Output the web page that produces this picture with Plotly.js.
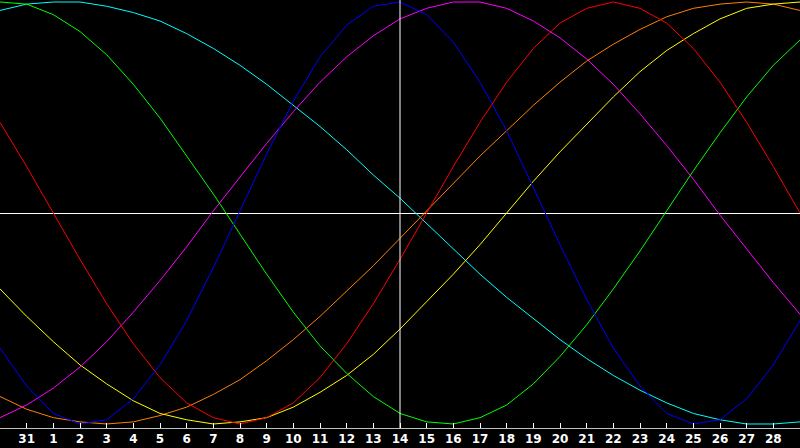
<!DOCTYPE html>
<html>
<head>
<meta charset="utf-8">
<script src="https://cdn.plot.ly/plotly-3.0.1.min.js"></script>
<style>
  html, body { margin: 0; padding: 0; background: #000; }
  #chart { width: 800px; height: 448px; }
</style>
</head>
<body>
<div id="chart"></div>
<script>
/* Seven-cycle biorhythm chart, one value per day, today marked. */

// day-of-month labels, first and last column sit on the plot edges
const days = [30, 31, 1, 2, 3, 4, 5, 6, 7, 8, 9, 10, 11, 12, 13, 14, 15, 16, 17, 18, 19, 20, 21, 22, 23, 24, 25, 26, 27, 28, 29];
const today = 14;

const physical = [-0.64, -0.82, -0.95, -1.00, -0.98, -0.88, -0.72, -0.51, -0.26, 0.01, 0.28, 0.53, 0.74, 0.89, 0.98, 1.00, 0.94, 0.81, 0.62, 0.39, 0.12, -0.15, -0.41, -0.64, -0.82, -0.95, -1.00, -0.98, -0.88, -0.72, -0.51];
const emotional = [0.43, 0.22, 0, -0.22, -0.43, -0.62, -0.78, -0.90, -0.97, -1.00, -0.97, -0.90, -0.78, -0.62, -0.43, -0.22, 0, 0.22, 0.43, 0.62, 0.78, 0.90, 0.97, 1.00, 0.97, 0.90, 0.78, 0.62, 0.43, 0.22, 0];
const intellectual = [1.00, 0.99, 0.94, 0.86, 0.75, 0.61, 0.45, 0.27, 0.09, -0.10, -0.29, -0.47, -0.63, -0.76, -0.87, -0.95, -0.99, -1.00, -0.97, -0.91, -0.81, -0.68, -0.53, -0.36, -0.18, 0.01, 0.20, 0.38, 0.55, 0.70, 0.82];
const intuitive = [-0.97, -0.91, -0.83, -0.73, -0.61, -0.47, -0.32, -0.16, 0.01, 0.17, 0.33, 0.48, 0.62, 0.74, 0.84, 0.92, 0.97, 1.00, 1.00, 0.97, 0.91, 0.83, 0.73, 0.61, 0.47, 0.32, 0.16, -0.01, -0.17, -0.33, -0.48];
const aesthetic = [-0.36, -0.49, -0.61, -0.72, -0.81, -0.89, -0.95, -0.98, -1.00, -0.99, -0.97, -0.92, -0.85, -0.77, -0.67, -0.55, -0.42, -0.29, -0.15, 0, 0.15, 0.29, 0.42, 0.55, 0.67, 0.77, 0.85, 0.92, 0.97, 0.99, 1.00];
const awareness = [-0.87, -0.93, -0.97, -0.99, -1.00, -0.99, -0.96, -0.92, -0.86, -0.79, -0.70, -0.60, -0.49, -0.37, -0.25, -0.12, 0.01, 0.14, 0.27, 0.39, 0.51, 0.62, 0.72, 0.80, 0.87, 0.93, 0.97, 0.99, 1.00, 0.99, 0.96];
const spiritual = [0.96, 0.99, 1.00, 1.00, 0.98, 0.95, 0.91, 0.85, 0.78, 0.70, 0.61, 0.51, 0.41, 0.30, 0.18, 0.07, -0.05, -0.17, -0.29, -0.40, -0.50, -0.60, -0.69, -0.77, -0.84, -0.90, -0.95, -0.98, -1.00, -1.00, -0.99];

const x = days.map((d, i) => i);
const todayIdx = days.indexOf(today);

function cycle(y, color, name) {
  return {
    x, y, name,
    type: "scatter",
    mode: "lines",
    line: { color, width: 1 },
    hoverinfo: "skip",
  };
}

const traces = [
  cycle(spiritual, "#00ffff", "Spiritual"),
  cycle(awareness, "#ff8000", "Awareness"),
  cycle(aesthetic, "#ffff00", "Aesthetic"),
  cycle(intuitive, "#ff00ff", "Intuitive"),
  cycle(intellectual, "#00ff00", "Intellectual"),
  cycle(emotional, "#ff0000", "Emotional"),
  cycle(physical, "#0000ff", "Physical"),
];

const layout = {
  width: 800,
  height: 448,
  margin: { l: 0, r: 0, t: 0, b: 20 },
  paper_bgcolor: "#000",
  plot_bgcolor: "#000",
  showlegend: false,
  xaxis: {
    range: [0, days.length - 1],
    tickvals: x.slice(1, -1),
    ticktext: days.slice(1, -1).map(String),
    ticks: "inside",
    ticklen: 5,
    tickwidth: 1,
    tickcolor: "#ffffff",
    tickfont: { family: "DejaVu Sans", size: 12, color: "#ffffff", weight: "bold" },
    showgrid: false,
    zeroline: false,
    showline: true,
    linecolor: "#c0c0c0",
    linewidth: 1,
    mirror: true,
  },
  yaxis: {
    range: [-1.019, 1.0095],
    showticklabels: false,
    ticks: "",
    showgrid: false,
    zeroline: true,
    zerolinecolor: "#ffffff",
    zerolinewidth: 1,
    showline: true,
    linecolor: "#c0c0c0",
    linewidth: 1,
    mirror: true,
  },
  shapes: [{
    type: "line",
    xref: "x", yref: "paper",
    x0: todayIdx, x1: todayIdx, y0: 0, y1: 1,
    line: { color: "#ffffff", width: 1 },
  }],
};

Plotly.newPlot("chart", traces, layout, { staticPlot: true, displayModeBar: false });
</script>
</body>
</html>
